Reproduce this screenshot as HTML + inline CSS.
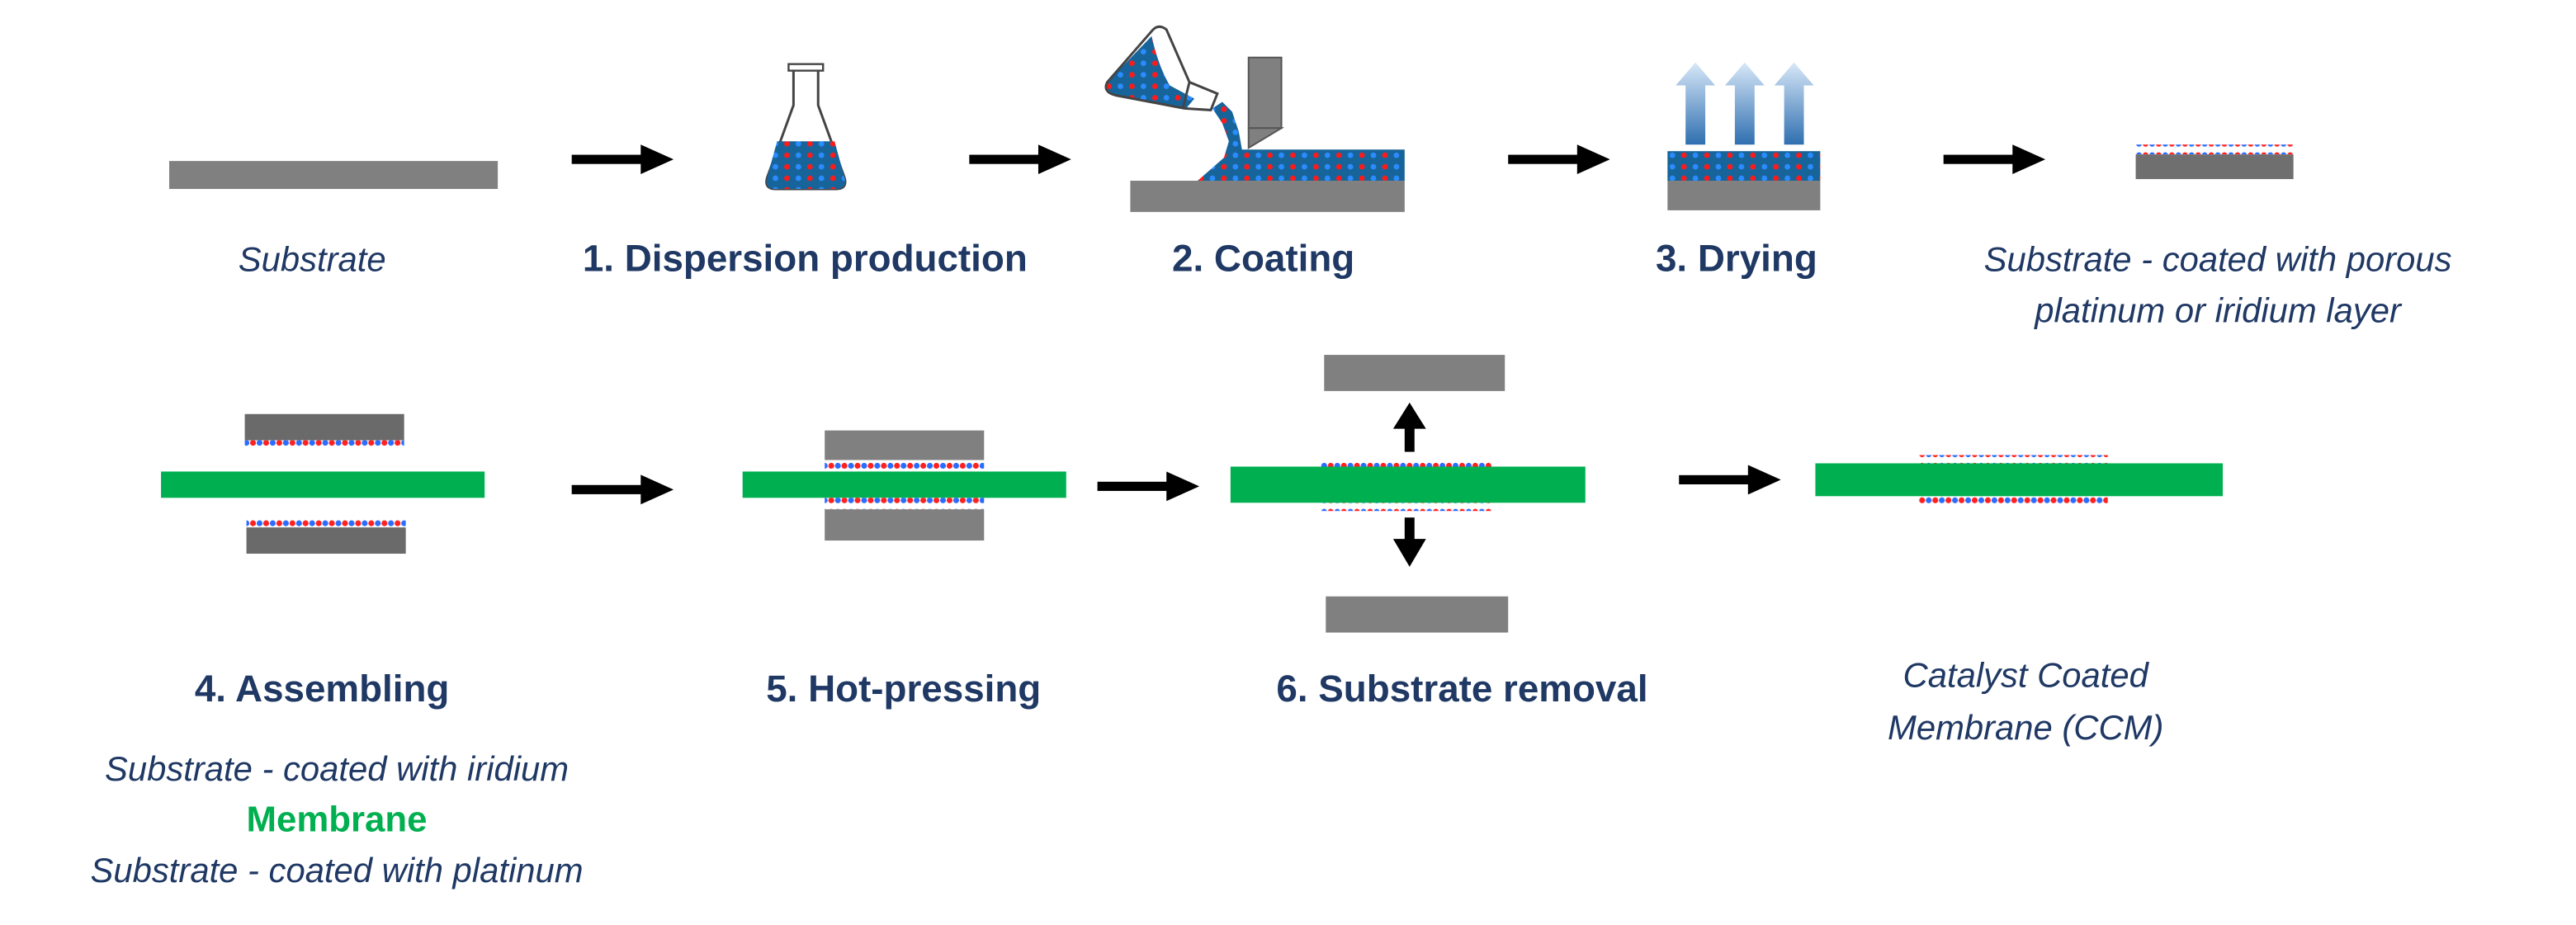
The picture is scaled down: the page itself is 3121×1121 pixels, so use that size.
<!DOCTYPE html>
<html><head><meta charset="utf-8"><style>
html,body{margin:0;padding:0;background:#fff}
svg{display:block}
text{font-family:"Liberation Sans",Arial,sans-serif;fill:#1f3864}
.b{font-weight:bold;font-size:23px}
.i{font-style:italic;font-size:21px}
</style></head><body>
<svg width="3121" height="1121" viewBox="0 0 1568 563" preserveAspectRatio="none" xmlns="http://www.w3.org/2000/svg">
<defs>
<pattern id="liq" width="14" height="7" patternUnits="userSpaceOnUse">
<rect width="14" height="7" fill="#17649a"/>
<circle cx="3" cy="3.5" r="1.7" fill="#ff1a1a"/><circle cx="10" cy="3.5" r="1.7" fill="#2a8cff"/>
</pattern>
<pattern id="thin" width="8" height="7" patternUnits="userSpaceOnUse">
<circle cx="2" cy="3.5" r="1.8" fill="#ff2020"/><circle cx="6" cy="3.5" r="1.8" fill="#2a6cff"/>
</pattern>
<linearGradient id="up" x1="0" y1="1" x2="0" y2="0"><stop offset="0" stop-color="#2f6fb0"/><stop offset="1" stop-color="#d8e8f8"/></linearGradient>
<g id="arr"><rect x="0" y="-2.8" width="44" height="5.6" fill="#000"/><polygon points="42,-9 62,0 42,9" fill="#000"/></g>
</defs>
<rect width="1568" height="563" fill="#fff"/>

<!-- Row 1 -->
<rect x="103" y="98" width="200" height="17" fill="#808080"/>
<use href="#arr" x="348" y="97"/>
<!-- flask -->
<path d="M483 42 L483 64 L467 108 Q465 115 472 115 L509 115 Q516 115 514 108 L498 64 L498 42 Z" fill="#fff" stroke="#444" stroke-width="1.5"/>
<path d="M473 86 L508 86 L514 108 Q516 115 509 115 L472 115 Q465 115 467 108 Z" fill="url(#liq)"/>
<rect x="480" y="39" width="21" height="4" fill="#fff" stroke="#444" stroke-width="1.2"/>
<use href="#arr" x="590" y="97"/>
<!-- coating -->
<rect x="688" y="110" width="167" height="19" fill="#808080"/>
<!-- stream + layer -->
<path d="M729 110 L745 96 L748 86 L744 75 L738 66 L744 62 L750 68 L754 80 L756 91 L855 91 L855 110 Z" fill="url(#liq)"/>
<!-- liquid in flask -->
<path d="M701 22 L674 50 Q672 56 679 58 L722 66 L727 60 L712 52 Q705 40 701 22 Z" fill="url(#liq)"/>
<!-- flask outline -->
<path d="M701 19 Q705 14 710 18 L724 50 L741 57 L737 67 L721 66 L679 58 Q671 56 674 50 Z" fill="none" stroke="#444" stroke-width="1.5"/>
<line x1="724" y1="50" x2="720" y2="66" stroke="#444" stroke-width="1.5"/>
<rect x="760" y="35" width="20" height="43" fill="#808080" stroke="#555" stroke-width="1"/>
<polygon points="760,78 780,78 760,90" fill="#808080" stroke="#555" stroke-width="1"/>
<use href="#arr" x="918" y="97"/>
<!-- drying -->
<rect x="1015" y="92" width="93" height="18" fill="url(#liq)"/>
<rect x="1015" y="110" width="93" height="18" fill="#808080"/>
<g fill="url(#up)">
<polygon points="1026,88 1038,88 1038,52 1044,52 1032,38 1020,52 1026,52"/>
<polygon points="1056,88 1068,88 1068,52 1074,52 1062,38 1050,52 1056,52"/>
<polygon points="1086,88 1098,88 1098,52 1104,52 1092,38 1080,52 1086,52"/>
</g>
<use href="#arr" x="1183" y="97"/>
<rect x="1300" y="88" width="96" height="6" fill="url(#thin)"/>
<rect x="1300" y="94" width="96" height="15" fill="#6f6f6f"/>

<text class="i" x="190" y="165" text-anchor="middle">Substrate</text>
<text class="b" x="490" y="165" text-anchor="middle">1. Dispersion production</text>
<text class="b" x="769" y="165" text-anchor="middle">2. Coating</text>
<text class="b" x="1057" y="165" text-anchor="middle">3. Drying</text>
<text class="i" x="1350" y="165" text-anchor="middle">Substrate - coated with porous</text>
<text class="i" x="1350" y="196" text-anchor="middle">platinum or iridium layer</text>

<!-- Row 2: assembling -->
<rect x="149" y="252" width="97" height="16" fill="#6a6a6a"/>
<rect x="149" y="268" width="97" height="6" fill="url(#thin)"/>
<rect x="98" y="287" width="197" height="16" fill="#00b050"/>
<rect x="150" y="315" width="97" height="6" fill="url(#thin)"/>
<rect x="150" y="321" width="97" height="16" fill="#6a6a6a"/>
<use href="#arr" x="348" y="298"/>
<!-- hot pressing -->
<rect x="502" y="262" width="97" height="18" fill="#808080"/>
<rect x="502" y="280" width="97" height="7" fill="url(#thin)"/>
<rect x="452" y="287" width="197" height="16" fill="#00b050"/>
<rect x="502" y="303" width="97" height="7" fill="url(#thin)"/>
<rect x="502" y="310" width="97" height="19" fill="#808080"/>
<use href="#arr" x="668" y="296"/>
<!-- substrate removal -->
<rect x="806" y="216" width="110" height="22" fill="#808080"/>
<rect x="855" y="258" width="6" height="17" fill="#000"/><polygon points="848,261 858,245 868,261" fill="#000"/>
<rect x="804" y="279" width="104" height="6" fill="url(#thin)"/>
<rect x="804" y="305" width="104" height="6" fill="url(#thin)"/>
<rect x="749" y="284" width="216" height="22" fill="#00b050"/>
<rect x="855" y="315" width="6" height="16" fill="#000"/><polygon points="848,328 858,345 868,328" fill="#000"/>
<rect x="807" y="363" width="111" height="22" fill="#808080"/>
<use href="#arr" x="1022" y="292"/>
<!-- CCM -->
<rect x="1168" y="277" width="115" height="6" fill="url(#thin)"/>
<rect x="1168" y="301" width="115" height="6" fill="url(#thin)"/>
<rect x="1105" y="282" width="248" height="20" fill="#00b050"/>

<text class="b" x="196" y="427" text-anchor="middle">4. Assembling</text>
<text class="b" x="550" y="427" text-anchor="middle">5. Hot-pressing</text>
<text class="b" x="890" y="427" text-anchor="middle">6. Substrate removal</text>
<text class="i" x="1233" y="418" text-anchor="middle">Catalyst Coated</text>
<text class="i" x="1233" y="450" text-anchor="middle">Membrane (CCM)</text>
<text class="i" x="205" y="475" text-anchor="middle">Substrate - coated with iridium</text>
<text class="b" x="205" y="506" text-anchor="middle" style="fill:#00b050;font-size:22px">Membrane</text>
<text class="i" x="205" y="537" text-anchor="middle">Substrate - coated with platinum</text>
</svg>
</body></html>
